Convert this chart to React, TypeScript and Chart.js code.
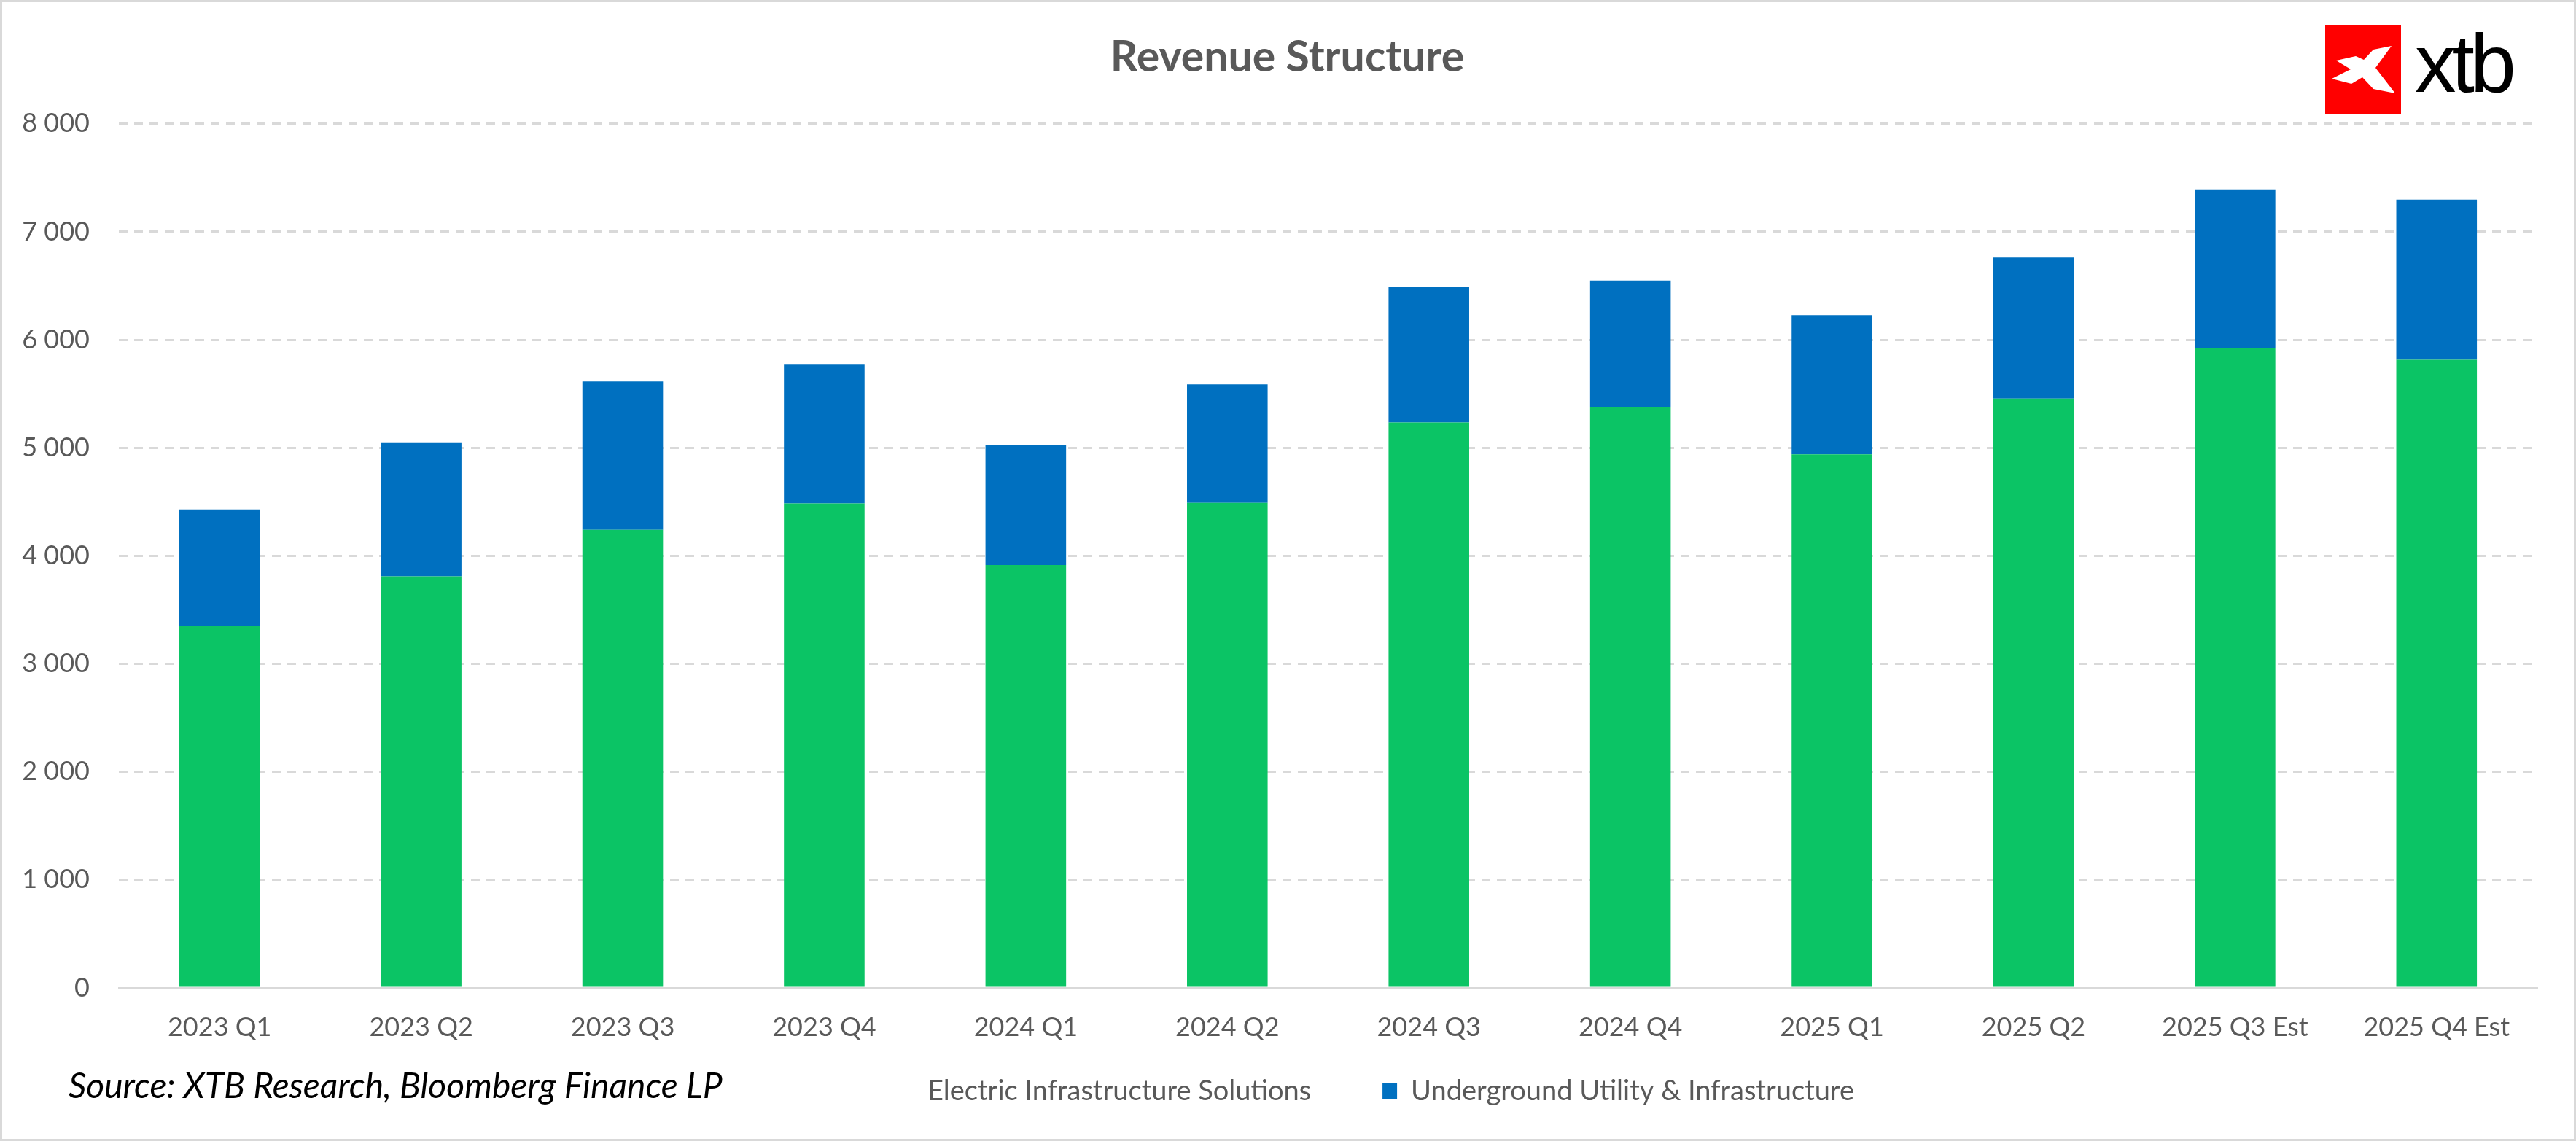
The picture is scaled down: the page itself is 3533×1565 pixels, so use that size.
import React, { useEffect, useRef } from 'react';
import { Chart, registerables } from 'chart.js';

Chart.register(...registerables);

// ---- data ----
const categories = [
  '2023 Q1', '2023 Q2', '2023 Q3', '2023 Q4',
  '2024 Q1', '2024 Q2', '2024 Q3', '2024 Q4',
  '2025 Q1', '2025 Q2', '2025 Q3 Est', '2025 Q4 Est',
];
const electricInfrastructureSolutions = [3350, 3810, 4240, 4485, 3915, 4490, 5235, 5380, 4940, 5455, 5920, 5815];
const undergroundUtilityInfrastructure = [1080, 1240, 1375, 1292, 1113, 1098, 1253, 1169, 1289, 1307, 1473, 1483];
const seriesNames = ['Electric Infrastructure Solutions', 'Underground Utility & Infrastructure'];
const yMin = 0;
const yMax = 8000;
const yStep = 1000;
const titleText = 'Revenue Structure';
const sourceText = 'Source: XTB Research, Bloomberg Finance LP';

// ---- styles ----
const GREEN = '#0BC465';
const BLUE = '#0070C0';
const GREY_TEXT = '#595959';
const GRID = '#d9d9d9';
const FONT = 'Lato';

const LEGEND_FONT = 38;
const LEGEND_LEFT = 1132;
const LEGEND_TOP = 1377;
const LEGEND_PAD = 98;
const TITLE_SHIFT = 24;

const fmt = (v: number) => String(v).replace(/\B(?=(\d{3})+(?!\d))/g, ' ');

const placement = {
  id: 'placement',
  afterLayout(chart: any) {
    const lg = chart.legend;
    if (lg) {
      const w = lg.width;
      lg.left = LEGEND_LEFT;
      lg.right = LEGEND_LEFT + w;
      lg.top = LEGEND_TOP;
      lg.height = LEGEND_PAD + LEGEND_FONT + 20;
      lg.bottom = LEGEND_TOP + lg.height;
    }
    const tb = chart.titleBlock;
    if (tb) {
      tb.left += TITLE_SHIFT;
      tb.right += TITLE_SHIFT;
    }
  },
};

export default function App() {
  const ref = useRef<HTMLCanvasElement>(null);

  useEffect(() => {
    Chart.defaults.font.family = FONT;
    const chart = new Chart(ref.current as HTMLCanvasElement, {
      type: 'bar',
      data: {
        labels: categories,
        datasets: [
          {
            label: seriesNames[0],
            data: electricInfrastructureSolutions,
            backgroundColor: GREEN,
            borderWidth: 0,
          },
          {
            label: seriesNames[1],
            data: undergroundUtilityInfrastructure,
            backgroundColor: BLUE,
            borderWidth: 0,
          },
        ],
      },
      plugins: [placement],
      options: {
        animation: false,
        responsive: true,
        maintainAspectRatio: false,
        layout: { padding: { left: 0, right: 50, top: 0, bottom: 67 } },
        datasets: { bar: { categoryPercentage: 1, barPercentage: 0.4 } },
        plugins: {
          title: {
            display: true,
            text: titleText,
            color: GREY_TEXT,
            font: { family: FONT, size: 59, weight: 'bold', lineHeight: 1.2 },
            padding: { top: 41, bottom: 55 },
          },
          legend: {
            display: true,
            position: 'bottom',
            align: 'start',
            maxHeight: 60,
            labels: {
              color: GREY_TEXT,
              font: { family: FONT, size: LEGEND_FONT },
              boxWidth: 20,
              boxHeight: 22,
              padding: LEGEND_PAD,
              generateLabels: (c: any) => {
                const items = Chart.defaults.plugins.legend.labels.generateLabels(c);
                return items.map((it: any, i: number) => ({
                  ...it,
                  fillStyle: i === 0 ? 'rgba(0,0,0,0)' : it.fillStyle,
                  strokeStyle: 'rgba(0,0,0,0)',
                  lineWidth: 0,
                }));
              },
            },
          },
          tooltip: { enabled: false },
        },
        scales: {
          x: {
            stacked: true,
            grid: { display: false, drawTicks: false },
            border: { display: true, color: GRID, width: 3 },
            ticks: {
              color: GREY_TEXT,
              font: { family: FONT, size: 36 },
              padding: 33,
              autoSkip: false,
              maxRotation: 0,
              minRotation: 0,
            },
            afterFit: (scale: any) => { scale.height = 80; },
          },
          y: {
            stacked: true,
            min: yMin,
            max: yMax,
            grid: { color: GRID, lineWidth: 3, drawTicks: false },
            border: { display: false, dash: [12, 9] },
            ticks: {
              stepSize: yStep,
              color: GREY_TEXT,
              font: { family: FONT, size: 36 },
              padding: 40,
              callback: (v: any) => fmt(Number(v)),
            },
            afterFit: (scale: any) => { scale.width = 160; },
          },
        },
      },
    });
    return () => chart.destroy();
  }, []);

  return (
    <div
      style={{
        position: 'fixed',
        inset: 0,
        boxSizing: 'border-box',
        border: `3px solid ${GRID}`,
        background: '#fff',
        overflow: 'hidden',
      }}
    >
      <div style={{ position: 'absolute', inset: 0 }}>
        <canvas ref={ref} />
      </div>
      <div
        style={{
          position: 'absolute',
          left: 91,
          top: 1461,
          fontFamily: FONT,
          fontStyle: 'italic',
          fontSize: 48,
          lineHeight: '48px',
          color: '#000',
          whiteSpace: 'nowrap',
        }}
      >
        {sourceText}
      </div>
      <svg
        width={104}
        height={123}
        viewBox="0 0 104 123"
        style={{ position: 'absolute', left: 3186, top: 31 }}
      >
        <rect x={0} y={0} width={104} height={123} fill="#FF0000" />
        <polygon
          fill="#fff"
          points="91,29 69,59 96,94 66,88 51,72 36,81 9,74 35,61 15,49 42,43 53,48 66,34"
        />
      </svg>
      <div
        style={{
          position: 'absolute',
          left: 3309,
          top: 28,
          fontFamily: 'Liberation Sans',
          fontSize: 113,
          lineHeight: '113px',
          letterSpacing: -6,
          color: '#000',
          whiteSpace: 'nowrap',
        }}
      >
        xtb
      </div>
    </div>
  );
}
